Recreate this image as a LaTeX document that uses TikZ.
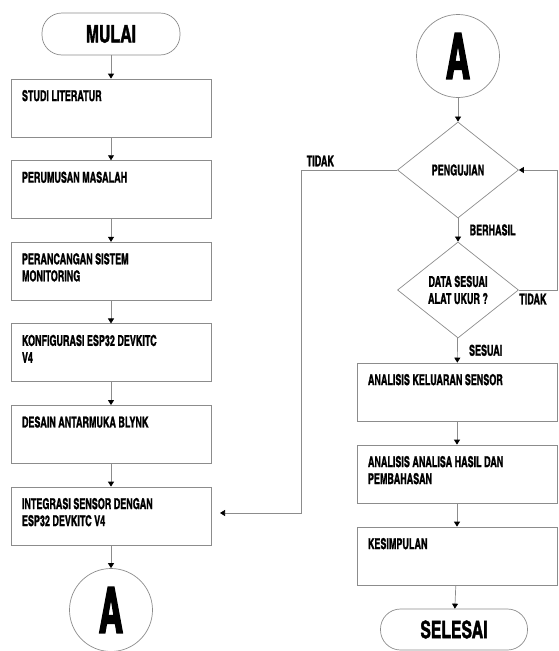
\documentclass[tikz,border=0pt]{standalone}
\usepackage{fontspec}
\usetikzlibrary{shapes.geometric,arrows.meta}
\newfontfamily\flowfont[FakeStretch=0.73,FakeBold=1.2]{texgyreheroscn-bold.otf}
\newfontfamily\termfont[FakeStretch=0.8,FakeBold=1.5]{texgyreheroscn-bold.otf}
\newfontfamily\connfont[FakeStretch=0.64,FakeBold=2]{texgyreheroscn-bold.otf}
\definecolor{LineGray}{HTML}{8C8C8C}
\newcommand{\boxtxt}[1]{\parbox[t][36pt][t]{178pt}{\raggedright #1}}

\begin{document}
\begin{tikzpicture}[x=1pt,y=-1pt,
  every node/.style={font=\flowfont\fontsize{15}{17}\selectfont},
  stepbox/.style={draw=LineGray, line width=0.7pt, rectangle, minimum width=200pt, minimum height=58pt, inner sep=0pt},
  decision/.style={draw=LineGray, line width=0.7pt, diamond, minimum width=121pt, minimum height=96pt, inner sep=0pt, align=center},
  term/.style={draw=LineGray, line width=0.7pt, rectangle, rounded corners=20pt, inner sep=0pt, font=\termfont\fontsize{24}{24}\selectfont},
  connector/.style={draw=LineGray, line width=0.7pt, circle, minimum size=83pt, inner sep=0pt, font=\connfont\fontsize{64}{64}\selectfont},
  flowarrow/.style={draw=LineGray, line width=0.7pt, -{Triangle[width=6pt,length=5pt,color=black]}}
]
\useasboundingbox (0,0) rectangle (558,651);

% --- left column ---
\node[term, minimum width=138pt, minimum height=42pt] (mulai) at (111,34) {MULAI};
\foreach \i/\txt in {1/STUDI LITERATUR, 2/PERUMUSAN MASALAH, 3/{PERANCANGAN SISTEM\\MONITORING},
    4/{KONFIGURASI ESP32 DEVKITC\\V4}, 5/DESAIN ANTARMUKA BLYNK, 6/{INTEGRASI SENSOR DENGAN\\ESP32 DEVKITC V4}}
  \node[stepbox] (s-\i) at (111,{108+(\i-1)*81.6}) {\boxtxt{\txt}};
\node[connector] (a-out) at (111,610) {A};
\coordinate (int-in) at (220,513);

\draw[flowarrow] (mulai) -- (s-1);
\foreach \i/\j in {1/2,2/3,3/4,4/5,5/6}
  \draw[flowarrow] (s-\i) -- (s-\j);
\draw[flowarrow] (s-6) -- (a-out);

% --- right column ---
\node[connector] (a-in) at (458,56) {A};
\node[decision] (uji) at (458,170) {PENGUJIAN};
\node[decision] (cek) at (458,290) {DATA SESUAI\\ALAT UKUR ?};
\foreach \i/\txt in {7/ANALISIS KELUARAN SENSOR, 8/{ANALISIS ANALISA HASIL DAN\\PEMBAHASAN}, 9/KESIMPULAN}
  \node[stepbox] (s-\i) at (457,{392+(\i-7)*82}) {\boxtxt{\txt}};
\node[term, minimum width=147pt, minimum height=41pt] (selesai) at (454,629.5) {SELESAI};

\draw[flowarrow] (a-in) -- (uji);
\draw[flowarrow] (uji) -- node[right=8pt] {BERHASIL} (cek);
\draw[flowarrow] (cek) -- node[right=8pt] {SESUAI} (s-7);
\draw[flowarrow] (cek.east) -- node[below, pos=0.37] {TIDAK} ++(38,0) |- (uji.east);
\draw[flowarrow] (uji.west) -- node[above, pos=0.8] {TIDAK} ++(-96,0) |- (int-in);
\draw[flowarrow] (s-7) -- (s-8);
\draw[flowarrow] (s-8) -- (s-9);
\draw[flowarrow] (s-9) -- (selesai);
\end{tikzpicture}
\end{document}
